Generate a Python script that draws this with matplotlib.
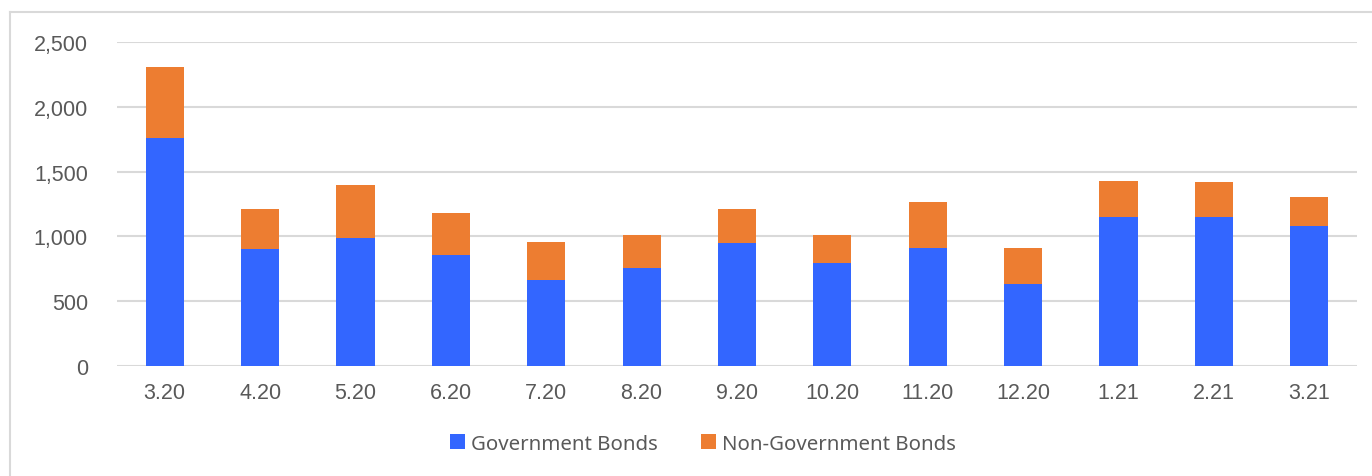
import matplotlib
matplotlib.use("Agg")
import matplotlib.pyplot as plt
from matplotlib.lines import Line2D
from matplotlib.patches import Patch
import numpy as np

categories = ["3.20", "4.20", "5.20", "6.20", "7.20", "8.20", "9.20",
              "10.20", "11.20", "12.20", "1.21", "2.21", "3.21"]
government = [1761, 900, 985, 854, 662, 754, 946, 792, 908, 631, 1152, 1152, 1084]
totals = [2303, 1215, 1400, 1177, 954, 1008, 1215, 1008, 1269, 908, 1430, 1422, 1307]
non_government = [t - g for t, g in zip(totals, government)]
yticks = [0, 500, 1000, 1500, 2000, 2500]

W, H = 1372, 477
fig = plt.figure(figsize=(W / 100, H / 100), dpi=100)
ax = fig.add_axes([117 / W, 1 - 367.3 / H, (1357 - 117) / W, (367.3 - 42.7) / H])

blue = "#3366FF"
orange = "#ED7D31"
grid = "#D9D9D9"
txt = "#595959"

x = np.arange(len(categories))
ax.bar(x, government, width=0.4, color=blue, zorder=3)
ax.bar(x, non_government, width=0.4, bottom=government, color=orange, zorder=3)

ax.set_xlim(-0.5, len(categories) - 0.5)
ax.set_ylim(0, 2500)
ax.set_yticks(yticks)
ax.set_yticklabels([f"{v:,}" for v in yticks])
ax.set_xticks(x)
ax.set_xticklabels(categories)
for lab in ax.get_xticklabels() + ax.get_yticklabels():
    lab.set_fontfamily("Liberation Sans")
    lab.set_fontsize(15.5)
    lab.set_color(txt)
ax.tick_params(axis="both", length=0)
ax.tick_params(axis="y", pad=21)
ax.tick_params(axis="x", pad=11)
for s in ax.spines.values():
    s.set_visible(False)
ax.yaxis.grid(True, color=grid, linewidth=1.5, zorder=0)
ax.set_axisbelow(True)

handles = [Patch(facecolor=blue, label="Government Bonds"),
           Patch(facecolor=orange, label="Non-Government Bonds")]
fig.legend(handles=handles, loc="center", bbox_to_anchor=(703 / W, 1 - 445 / H),
           ncol=2, frameon=False, handlelength=0.75, handleheight=0.75,
           handletextpad=0.3, columnspacing=2.1,
           prop={"family": "Noto Sans", "size": 14.7}, labelcolor=txt)

# chart area border (light gray)
fig.add_artist(Line2D([10 / W, 10 / W], [0, 1 - 13 / H], color=grid, linewidth=1.5,
                      transform=fig.transFigure))
fig.add_artist(Line2D([10 / W, 1], [1 - 13 / H, 1 - 13 / H], color=grid, linewidth=1.5,
                      transform=fig.transFigure))

fig.savefig("out.png", dpi=100, facecolor="white")
